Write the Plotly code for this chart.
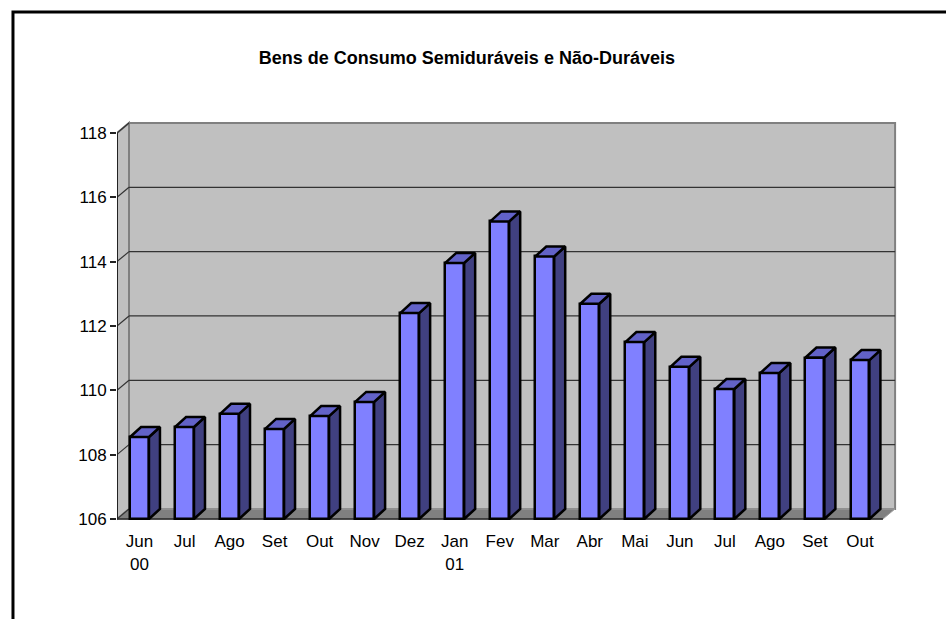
import plotly.graph_objects as go

# ---- data ----
months = ["Jun<br>00", "Jul", "Ago", "Set", "Out", "Nov", "Dez", "Jan<br>01", "Fev",
          "Mar", "Abr", "Mai", "Jun", "Jul", "Ago", "Set", "Out"]
values = [108.55, 108.86, 109.27, 108.80, 109.20, 109.64, 112.40, 113.96, 115.25,
          114.16, 112.69, 111.50, 110.73, 110.04, 110.54, 111.02, 110.94]
y_ticks = [106, 108, 110, 112, 114, 116, 118]
title = "Bens de Consumo Semiduráveis e Não-Duráveis"

# ---- geometry (axis units) ----
BASE = 106
W = 0.42          # bar front width
DX, DY = 0.244, 0.311   # bar depth offset
WX, WY = 0.2665, 0.311  # wall depth offset
X0 = -0.5
XR_FRONT = 16.51
XMAX, YMIN, YMAX = 17.0, 105.8135, 118.558
FONT = "Liberation Sans, Arial, sans-serif"

idx = list(range(len(values)))

fig = go.Figure()

# front faces
fig.add_trace(go.Bar(
    x=idx, y=[v - BASE for v in values], base=BASE, width=W,
    marker=dict(color="#8080ff", line=dict(color="black", width=2.5)),
    hoverinfo="skip", showlegend=False))

# side faces and tops
sx, sy, tx, ty = [], [], [], []
for i, v in zip(idx, values):
    r = i + W / 2
    l = i - W / 2
    sx += [r, r, r + DX, r + DX, r, None]
    sy += [BASE, v, v + DY, BASE + DY, BASE, None]
    tx += [l, r, r + DX, l + DX, l, None]
    ty += [v, v, v + DY, v + DY, v, None]
fig.add_trace(go.Scatter(x=sx, y=sy, mode="lines", fill="toself",
                         fillcolor="#404080", line=dict(color="black", width=2.5),
                         hoverinfo="skip", showlegend=False))
fig.add_trace(go.Scatter(x=tx, y=ty, mode="lines", fill="toself",
                         fillcolor="#6262c8", line=dict(color="black", width=2.5),
                         hoverinfo="skip", showlegend=False))

shapes = []
top = y_ticks[-1]
# back wall
shapes.append(dict(type="rect", xref="x", yref="y", layer="below",
                   x0=X0 + WX, x1=16.78, y0=BASE + WY, y1=top + WY,
                   fillcolor="#c0c0c0", line=dict(color="#808080", width=2)))
# side wall
shapes.append(dict(type="path", xref="x", yref="y", layer="below",
                   path=f"M {X0},{BASE} L {X0},{top} L {X0+WX},{top+WY} L {X0+WX},{BASE+WY} Z",
                   fillcolor="#c0c0c0", line=dict(color="#808080", width=2)))
# floor
shapes.append(dict(type="path", xref="x", yref="y", layer="below",
                   path=f"M {X0},{BASE} L {XR_FRONT},{BASE} L {XR_FRONT+WX},{BASE+WY} L {X0+WX},{BASE+WY} Z",
                   fillcolor="#808080", line=dict(color="#a0a0a0", width=1)))
# gridlines on the back wall + diagonal on side wall
for t in y_ticks[1:-1]:
    shapes.append(dict(type="line", xref="x", yref="y", layer="below",
                       x0=X0 + WX, x1=16.78, y0=t + WY, y1=t + WY,
                       line=dict(color="#333333", width=1.2)))
for t in y_ticks:
    shapes.append(dict(type="line", xref="x", yref="y", layer="below",
                       x0=X0, x1=X0 + WX, y0=t, y1=t + WY,
                       line=dict(color="#333333", width=1.2)))
# front floor edge and value axis line
shapes.append(dict(type="line", xref="x", yref="y", layer="below",
                   x0=X0, x1=XR_FRONT, y0=BASE, y1=BASE,
                   line=dict(color="#222222", width=1.5)))
shapes.append(dict(type="line", xref="x", yref="y", layer="above",
                   x0=X0, x1=X0, y0=BASE, y1=top,
                   line=dict(color="#222222", width=2)))
# outer chart border (top and left visible)
shapes.append(dict(type="rect", xref="paper", yref="paper",
                   x0=-0.132, x1=1.08, y0=-0.27, y1=1.2512,
                   line=dict(color="black", width=3), fillcolor="rgba(0,0,0,0)"))

fig.update_layout(
    width=946, height=619,
    margin=dict(l=117, r=41, t=115, b=94, pad=0),
    paper_bgcolor="white", plot_bgcolor="white",
    font=dict(family=FONT, size=17, color="black"),
    title=dict(text=f"<b>{title}</b>", font=dict(family=FONT, size=18, color="black"),
               xref="paper", x=0.444, xanchor="center",
               yref="container", y=1 - 58 / 619, yanchor="middle"),
    shapes=shapes,
    bargap=0,
    xaxis=dict(range=[X0, XMAX], tickmode="array", tickvals=idx, ticktext=months,
               showgrid=False, zeroline=False, showline=False,
               ticks="outside", ticklen=1, tickcolor="rgba(0,0,0,0)",
               tickfont=dict(family=FONT, size=17, color="black")),
    yaxis=dict(range=[YMIN, YMAX], tickmode="array", tickvals=y_ticks,
               showgrid=False, zeroline=False, showline=False,
               ticks="outside", ticklen=6, tickcolor="#222222", tickwidth=1.5,
               tickfont=dict(family=FONT, size=17, color="black")),
)

fig.write_html("out.html", config={"displayModeBar": False},
               post_script="document.body.style.margin='0';")
